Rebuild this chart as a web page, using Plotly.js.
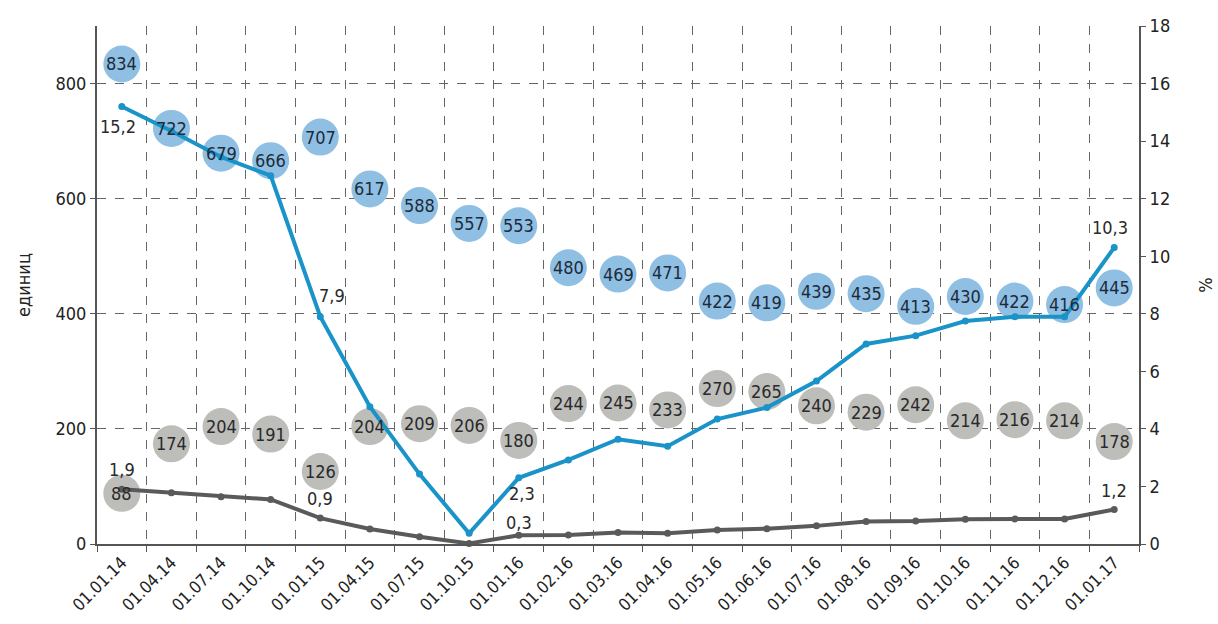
<!DOCTYPE html>
<html>
<head>
<meta charset="utf-8">
<script src="https://cdn.plot.ly/plotly-3.0.1.min.js"></script>
<style>html,body{margin:0;padding:0;background:#fff;}#chart{width:1218px;height:624px;}</style>
</head>
<body>
<div id="chart"></div>
<script>
var categories = ['01.01.14','01.04.14','01.07.14','01.10.14','01.01.15','01.04.15','01.07.15','01.10.15','01.01.16','01.02.16','01.03.16','01.04.16','01.05.16','01.06.16','01.07.16','01.08.16','01.09.16','01.10.16','01.11.16','01.12.16','01.01.17'];
var blueUnits = [834,722,679,666,707,617,588,557,553,480,469,471,422,419,439,435,413,430,422,416,445];
var grayUnits = [88,174,204,191,126,204,209,206,180,244,245,233,270,265,240,229,242,214,216,214,178];
var bluePct = [15.2,14.35,13.45,12.8,7.9,4.77,2.43,0.37,2.3,2.92,3.64,3.40,4.34,4.74,5.66,6.95,7.24,7.75,7.9,7.9,10.3];
var grayPct = [1.9,1.78,1.64,1.55,0.9,0.52,0.25,0.02,0.3,0.31,0.40,0.37,0.49,0.53,0.63,0.78,0.80,0.86,0.87,0.87,1.2];
var leftTicks = [0,200,400,600,800];
var rightTicks = [0,2,4,6,8,10,12,14,16,18];
var blueLabelIdx = [0,4,8,20];
var grayLabelIdx = [0,4,8,20];

var FONT = '"Liberation Sans Narrow","DejaVu Sans Condensed","Arial Narrow",sans-serif';
var fmt = function(v){ return v.toFixed(1).replace('.', ','); };

var traces = [
  {x: categories, y: blueUnits, yaxis: 'y', type: 'scatter', mode: 'markers',
   marker: {size: 37, color: '#8fbfe3', line: {width: 0}}, hoverinfo: 'none', cliponaxis: false},
  {x: categories, y: grayUnits, yaxis: 'y', type: 'scatter', mode: 'markers',
   marker: {size: 37, color: '#bdbdba', line: {width: 0}}, hoverinfo: 'none', cliponaxis: false},
  {x: categories, y: bluePct, yaxis: 'y2', type: 'scatter', mode: 'lines+markers',
   line: {color: '#1a93c8', width: 4}, marker: {size: 7, color: '#1a93c8'}, cliponaxis: false},
  {x: categories, y: grayPct, yaxis: 'y2', type: 'scatter', mode: 'lines+markers',
   line: {color: '#5a5a5a', width: 4}, marker: {size: 7, color: '#5a5a5a'}, cliponaxis: false}
];

var annotations = [];
categories.forEach(function(c, i){
  annotations.push({x: c, y: blueUnits[i], xref: 'x', yref: 'y', text: String(blueUnits[i]),
    showarrow: false, font: {family: FONT, size: 18, color: '#1e2b3a'}});
  annotations.push({x: c, y: grayUnits[i], xref: 'x', yref: 'y', text: String(grayUnits[i]),
    showarrow: false, font: {family: FONT, size: 18, color: '#2a2a2a'}});
});
var blueShift = {0: [-4, -20], 4: [12, 21], 8: [3, -16], 20: [-4, 20]};
var grayShift = {0: [0, 20], 4: [0, 20], 8: [0, 13], 20: [0, 19]};
blueLabelIdx.forEach(function(i){
  annotations.push({x: categories[i], y: bluePct[i], xref: 'x', yref: 'y2', text: fmt(bluePct[i]),
    showarrow: false, xshift: blueShift[i][0], yshift: blueShift[i][1],
    font: {family: FONT, size: 18, color: '#2a2a2a'}});
});
grayLabelIdx.forEach(function(i){
  annotations.push({x: categories[i], y: grayPct[i], xref: 'x', yref: 'y2', text: fmt(grayPct[i]),
    showarrow: false, xshift: grayShift[i][0], yshift: grayShift[i][1],
    font: {family: FONT, size: 18, color: '#2a2a2a'}});
});

var layout = {
  width: 1218, height: 624,
  margin: {l: 97, r: 79, t: 26, b: 80},
  paper_bgcolor: '#ffffff', plot_bgcolor: '#ffffff',
  showlegend: false,
  font: {family: FONT, color: '#333333', size: 17},
  xaxis: {
    type: 'category', tickson: 'boundaries', showgrid: true, gridcolor: '#666666', griddash: 'dash', gridwidth: 1,
    ticks: 'outside', ticklen: 6, tickcolor: '#555555', tickangle: -45,
    tickfont: {family: FONT, size: 17, color: '#222222'},
    showline: true, linecolor: '#555555', linewidth: 2, zeroline: false,
    range: [-0.5, 20.5], fixedrange: true
  },
  yaxis: {
    range: [0, 900], tickvals: leftTicks, ticktext: leftTicks.map(String),
    showgrid: true, gridcolor: '#666666', griddash: 'dash', gridwidth: 1,
    ticks: 'outside', ticklen: 5, tickcolor: '#555555',
    showline: true, linecolor: '#555555', linewidth: 2, zeroline: false,
    tickfont: {family: FONT, size: 18, color: '#222222'},
    title: {text: 'единиц', font: {family: FONT, size: 18, color: '#222222'}, standoff: 20}
  },
  yaxis2: {
    overlaying: 'y', side: 'right', range: [0, 18], tickvals: rightTicks, ticktext: rightTicks.map(String),
    showgrid: false, ticks: 'outside', ticklen: 5, tickcolor: '#555555',
    showline: true, linecolor: '#555555', linewidth: 2, zeroline: false,
    tickfont: {family: FONT, size: 18, color: '#222222'},
    title: {text: '%', font: {family: FONT, size: 18, color: '#222222'}, standoff: 30}
  },
  annotations: annotations
};

Plotly.newPlot('chart', traces, layout, {displayModeBar: false, staticPlot: true});
</script>
</body>
</html>
